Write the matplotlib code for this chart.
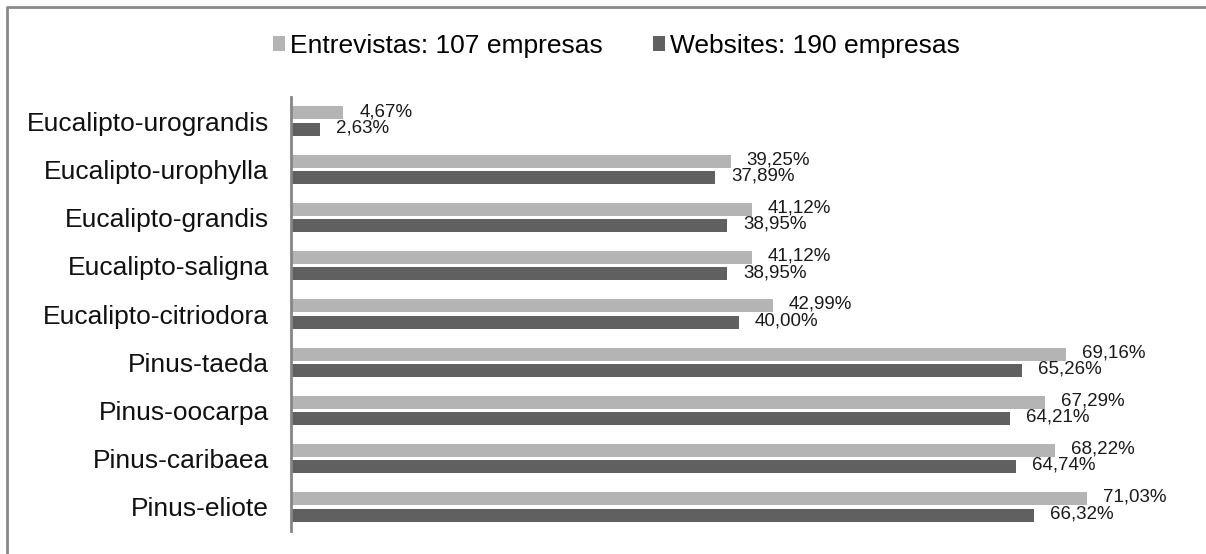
import numpy as np
import matplotlib.pyplot as plt
from matplotlib.lines import Line2D

plt.rcParams['font.family'] = ['Liberation Sans', 'DejaVu Sans']

# espécies (de cima para baixo) e percentuais
especies = ["Eucalipto-urograndis", "Eucalipto-urophylla", "Eucalipto-grandis",
            "Eucalipto-saligna", "Eucalipto-citriodora", "Pinus-taeda",
            "Pinus-oocarpa", "Pinus-caribaea", "Pinus-eliote"]
entrevistas = [4.67, 39.25, 41.12, 41.12, 42.99, 69.16, 67.29, 68.22, 71.03]
websites = [2.63, 37.89, 38.95, 38.95, 40.00, 65.26, 64.21, 64.74, 66.32]
rotulos = ["Entrevistas: 107 empresas", "Websites: 190 empresas"]

cor_clara = "#B4B4B4"
cor_escura = "#606060"

fig = plt.figure(figsize=(12.06, 5.54), dpi=100)
ax = fig.add_axes([0.2413, 0.0415, 0.743, 0.7834])

y = np.arange(len(especies))
h = 0.27
b1 = ax.barh(y - 0.17, entrevistas, height=h, color=cor_clara, label=rotulos[0])
b2 = ax.barh(y + 0.17, websites, height=h, color=cor_escura, label=rotulos[1])

def fmt(v):
    return ("%.2f%%" % v).replace(".", ",")

for bars, vals in [(b1, entrevistas), (b2, websites)]:
    for r, v in zip(bars, vals):
        ax.annotate(fmt(v), xy=(v, r.get_y() + r.get_height() / 2),
                    xytext=(11.5, 1), textcoords="offset points",
                    ha="left", va="center", fontsize=13.5, color="#1a1a1a")

ax.set_xlim(0, 80)
ax.set_ylim(len(especies) - 0.5, -0.5)
ax.set_yticks(y)
ax.set_yticklabels(especies, fontsize=19, color="#111111")
ax.tick_params(axis="y", length=0, pad=16)
ax.set_xticks([])
for s in ["top", "right", "bottom"]:
    ax.spines[s].set_visible(False)
ax.spines["left"].set_color("#868686")
ax.spines["left"].set_linewidth(2)

fig.legend(handles=[b1, b2], loc="center", bbox_to_anchor=(0.511, 0.917),
           ncol=2, frameon=False, fontsize=19, handlelength=0.45,
           handleheight=0.45, handletextpad=0.2, columnspacing=1.9)

# moldura (só topo e lateral esquerda)
fig.add_artist(Line2D([0.006, 0.006, 1.0], [0.0, 0.987, 0.987],
                      transform=fig.transFigure, color="#8a8a8a", lw=2))

fig.savefig("out.png", dpi=100)
